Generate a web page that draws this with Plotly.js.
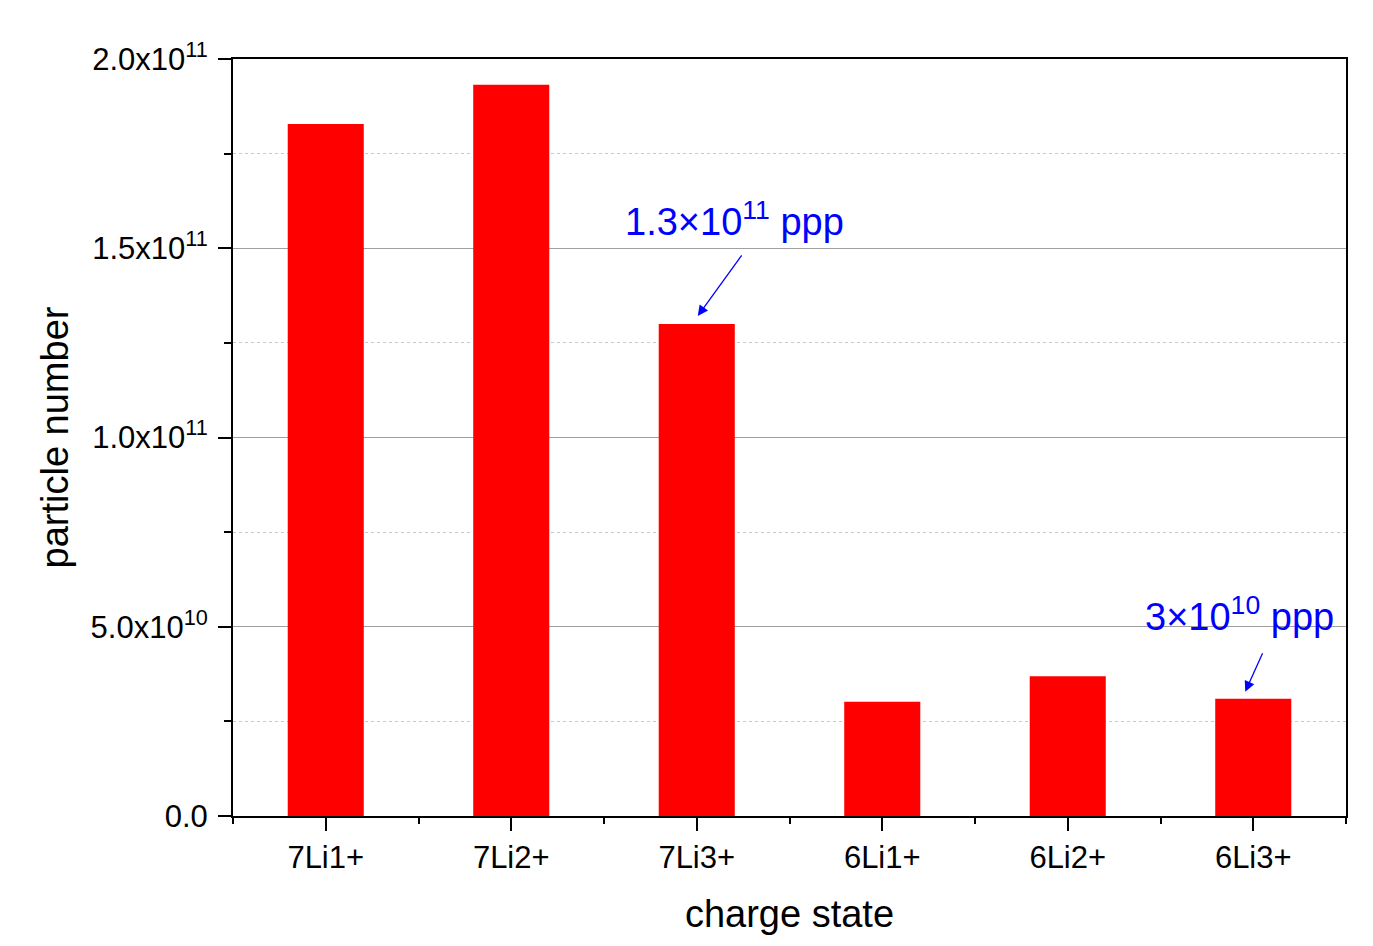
<!DOCTYPE html>
<html>
<head>
<meta charset="utf-8">
<script src="https://cdn.plot.ly/plotly-3.0.1.min.js"></script>
<style>
  html, body { margin: 0; padding: 0; background: #ffffff; }
  #chart { width: 1373px; height: 946px; }
</style>
</head>
<body>
<div id="chart"></div>
<script>
// Ion species (charge states) and extracted particle numbers
const chargeStates = ['7Li1+', '7Li2+', '7Li3+', '6Li1+', '6Li2+', '6Li3+'];
const particleNumbers = [1.828e11, 1.932e11, 1.3e11, 3.02e10, 3.69e10, 3.1e10];

// Y-axis tick positions and their labels
const yTickValues = [0, 5e10, 1e11, 1.5e11, 2e11];
const yTickLabels = ['0.0', '5.0x10<sup>10</sup>', '1.0x10<sup>11</sup>', '1.5x10<sup>11</sup>', '2.0x10<sup>11</sup>'];

// Callouts: which bar, significant digits shown
const callouts = [
  { state: '7Li3+', digits: 2 },
  { state: '6Li3+', digits: 1 }
];

const FONT = 'Liberation Sans, Arial, sans-serif';

function sciLabel(v, digits) {
  const exp = Math.floor(Math.log10(v));
  const mant = v / Math.pow(10, exp);
  const m = digits > 1 ? mant.toFixed(digits - 1) : String(Math.round(mant));
  return m + '\u00d710<sup>' + exp + '</sup> ppp';
}

// boundaries between categories for the short minor ticks
const boundaries = [];
for (let i = 0; i <= chargeStates.length; i++) boundaries.push(i - 0.5);

const traces = [
  {
    type: 'bar',
    x: chargeStates,
    y: particleNumbers,
    width: 0.41,
    marker: { color: '#ff0000', line: { width: 0 } },
    hoverinfo: 'x+y',
    showlegend: false
  },
  {
    type: 'scatter',
    x: [],
    y: [],
    xaxis: 'x2',
    yaxis: 'y',
    hoverinfo: 'skip',
    showlegend: false
  }
];

// Arrow geometry (pixels) and text offsets for each callout
const arrowStyle = [
  { headDx: 1, headDy: 8, ax: 45, ay: -62, textDx: 38, textDy: 105 },
  { headDx: -8, headDy: 7, ax: 18, ay: -40, textDx: -14, textDy: 85 }
];

const annotations = [];
callouts.forEach((c, i) => {
  const idx = chargeStates.indexOf(c.state);
  const v = particleNumbers[idx];
  const s = arrowStyle[i];
  annotations.push({
    x: c.state, y: v, xref: 'x', yref: 'y',
    text: '', showarrow: true,
    xshift: s.headDx, yshift: s.headDy,
    ax: s.ax, ay: s.ay,
    arrowhead: 2, arrowsize: 1.6, arrowwidth: 1.3, arrowcolor: '#0000ff'
  });
  annotations.push({
    x: c.state, y: v, xref: 'x', yref: 'y',
    text: sciLabel(v, c.digits), showarrow: false,
    xshift: s.textDx, yshift: s.textDy,
    xanchor: 'center', yanchor: 'middle',
    font: { family: FONT, size: 38, color: '#0000ff' }
  });
});

const layout = {
  width: 1373,
  height: 946,
  paper_bgcolor: '#ffffff',
  plot_bgcolor: '#ffffff',
  margin: { l: 233, r: 27, t: 59, b: 130 },
  font: { family: FONT, color: '#000000' },
  bargap: 0.59,
  xaxis: {
    type: 'category',
    range: [-0.5, 5.5],
    showgrid: false,
    zeroline: false,
    showline: true,
    linecolor: '#000000',
    linewidth: 2,
    mirror: true,
    ticks: 'outside',
    ticklen: 13,
    tickwidth: 2,
    tickcolor: '#000000',
    tickfont: { family: FONT, size: 31, color: '#000000' },
    title: { text: 'charge state', font: { family: FONT, size: 38, color: '#000000' }, standoff: 26 }
  },
  xaxis2: {
    overlaying: 'x',
    anchor: 'y',
    side: 'bottom',
    range: [-0.5, 5.5],
    tickmode: 'array',
    tickvals: boundaries,
    showticklabels: false,
    ticks: 'outside',
    ticklen: 7,
    tickwidth: 2,
    tickcolor: '#000000',
    showgrid: false,
    zeroline: false,
    showline: false
  },
  yaxis: {
    range: [0, 2e11],
    tickmode: 'array',
    tickvals: yTickValues,
    ticktext: yTickLabels,
    showgrid: true,
    gridcolor: '#a0a0a0',
    gridwidth: 1,
    zeroline: false,
    showline: true,
    linecolor: '#000000',
    linewidth: 2,
    mirror: true,
    ticks: 'outside',
    ticklen: 13,
    tickwidth: 2,
    tickcolor: '#000000',
    ticklabelstandoff: 4,
    tickfont: { family: FONT, size: 31, color: '#000000' },
    minor: {
      tickmode: 'linear',
      tick0: 0,
      dtick: 2.5e10,
      ticks: 'outside',
      ticklen: 7,
      tickwidth: 2,
      tickcolor: '#000000',
      showgrid: true,
      gridcolor: '#c8c8c8',
      gridwidth: 1,
      griddash: '3px,3px'
    },
    title: { text: 'particle number', font: { family: FONT, size: 38, color: '#000000' }, standoff: 10 }
  },
  annotations: annotations
};

Plotly.newPlot('chart', traces, layout, { displayModeBar: false, staticPlot: true });
</script>
</body>
</html>
